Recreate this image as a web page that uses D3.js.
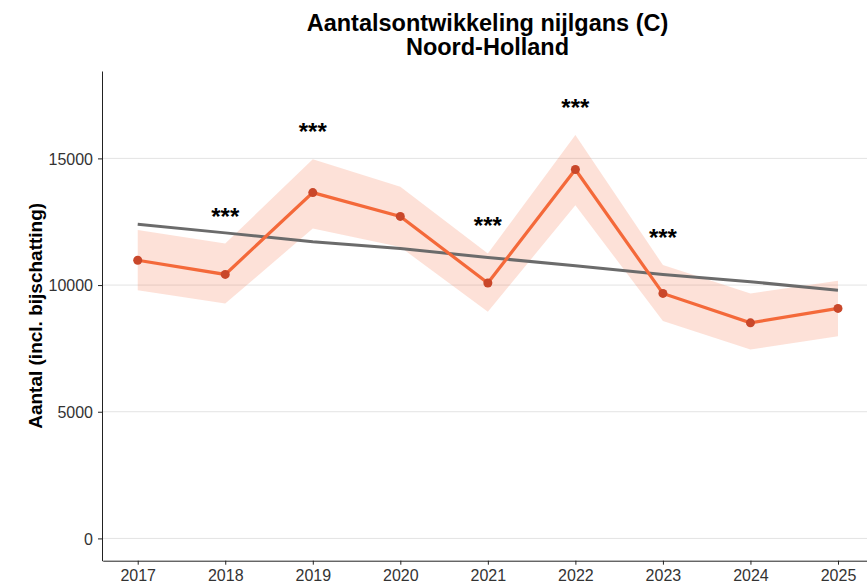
<!DOCTYPE html>
<html>
<head>
<meta charset="utf-8">
<script src="https://cdn.jsdelivr.net/npm/d3@7"></script>
<style>
    body { margin: 0; background: #fff; }
    svg { font-family: "Liberation Sans", Arial, sans-serif; display: block; }
    .axis text { font-size: 16px; fill: #333; }
    .axis line, .axis path { stroke: #222; }
</style>
</head>
<body>
<div id="chart"></div>
<script>

var years = [2017, 2018, 2019, 2020, 2021, 2022, 2023, 2024, 2025];
var aantal = [10980, 10420, 13650, 12710, 10080, 14560, 9670, 8510, 9080];
var bovengrens = [12170, 11640, 14970, 13880, 11250, 15920, 10790, 9670, 10170];
var ondergrens = [9800, 9270, 12230, 11500, 8950, 13150, 8580, 7460, 7980];
var trend = [12400, 12060, 11710, 11440, 11090, 10760, 10420, 10130, 9800];
var significant = ["", "***", "***", "", "***", "***", "***", "", ""];
var yTicks = [0, 5000, 10000, 15000];

var data = years.map(function (y, i) {
    return {
        year: y,
        value: aantal[i],
        upper: bovengrens[i],
        lower: ondergrens[i],
        trend: trend[i],
        sig: significant[i]
    };
});

var width = 867, height = 586;
var margin = {top: 71, left: 102, bottom: 25.3};
var panelRight = 873; // panel runs past the window edge, as in the reference

var svg = d3.select("#chart")
    .append("svg")
    .attr("width", width)
    .attr("height", height);

var xScale = d3.scaleLinear()
    .domain([2016.6, 2025.4])
    .range([margin.left + 0.7, panelRight]);

var yScale = d3.scaleLinear()
    .domain([-880, 18450])
    .range([height - margin.bottom, margin.top]);

// gridlines
svg.append("g")
    .selectAll("line")
    .data(yTicks)
    .enter()
    .append("line")
    .attr("x1", margin.left)
    .attr("x2", panelRight)
    .attr("y1", function (d) { return yScale(d); })
    .attr("y2", function (d) { return yScale(d); })
    .attr("stroke", "#e3e3e3")
    .attr("stroke-width", 1);

var area = d3.area()
    .x(function (d) { return xScale(d.year); })
    .y0(function (d) { return yScale(d.lower); })
    .y1(function (d) { return yScale(d.upper); });

svg.append("path")
    .attr("d", area(data))
    .attr("fill", "#F4693A")
    .attr("fill-opacity", 0.2);

var trendLine = d3.line()
    .x(function (d) { return xScale(d.year); })
    .y(function (d) { return yScale(d.trend); });

svg.append("path")
    .attr("d", trendLine(data))
    .attr("fill", "none")
    .attr("stroke", "#6b6b6b")
    .attr("stroke-width", 3);

var line = d3.line()
    .x(function (d) { return xScale(d.year); })
    .y(function (d) { return yScale(d.value); });

svg.append("path")
    .attr("d", line(data))
    .attr("fill", "none")
    .attr("stroke", "#F4693A")
    .attr("stroke-width", 3.2);

svg.append("g")
    .selectAll("circle")
    .data(data)
    .enter()
    .append("circle")
    .attr("cx", function (d) { return xScale(d.year); })
    .attr("cy", function (d) { return yScale(d.value); })
    .attr("r", 4.5)
    .attr("fill", "#C9472A");

// sterretjes boven de bovengrens
svg.append("g")
    .selectAll("text")
    .data(data.filter(function (d) { return d.sig !== ""; }))
    .enter()
    .append("text")
    .attr("x", function (d) { return xScale(d.year); })
    .attr("y", function (d) { return yScale(d.upper) - 19; })
    .attr("text-anchor", "middle")
    .style("font-size", "24px")
    .style("font-weight", "bold")
    .attr("fill", "#000")
    .text(function (d) { return d.sig; });

// assen
var xAxis = d3.axisBottom(xScale)
    .tickValues(years)
    .tickFormat(d3.format("d"))
    .tickSize(4)
    .tickSizeOuter(0)
    .tickPadding(5);

var yAxis = d3.axisLeft(yScale)
    .tickValues(yTicks)
    .tickFormat(d3.format("d"))
    .tickSize(4)
    .tickSizeOuter(0)
    .tickPadding(5);

svg.append("g")
    .attr("class", "x axis")
    .attr("transform", "translate(0," + (height - margin.bottom) + ")")
    .call(xAxis);

svg.append("g")
    .attr("class", "y axis")
    .attr("transform", "translate(" + margin.left + ",0)")
    .call(yAxis);

svg.selectAll(".x.axis text").attr("dy", "0.71em");
svg.selectAll(".y.axis text").attr("dy", "0.35em");

// titel
svg.append("text")
    .attr("x", (margin.left + panelRight) / 2)
    .attr("y", 30.5)
    .attr("text-anchor", "middle")
    .style("font-size", "23.5px")
    .style("font-weight", "bold")
    .text("Aantalsontwikkeling nijlgans (C)");

svg.append("text")
    .attr("x", (margin.left + panelRight) / 2)
    .attr("y", 55)
    .attr("text-anchor", "middle")
    .style("font-size", "23.5px")
    .style("font-weight", "bold")
    .text("Noord-Holland");

svg.append("text")
    .attr("transform", "translate(42," + ((margin.top + height - margin.bottom) / 2) + ") rotate(-90)")
    .attr("text-anchor", "middle")
    .style("font-size", "19px")
    .style("font-weight", "bold")
    .text("Aantal (incl. bijschatting)");

</script>
</body>
</html>
